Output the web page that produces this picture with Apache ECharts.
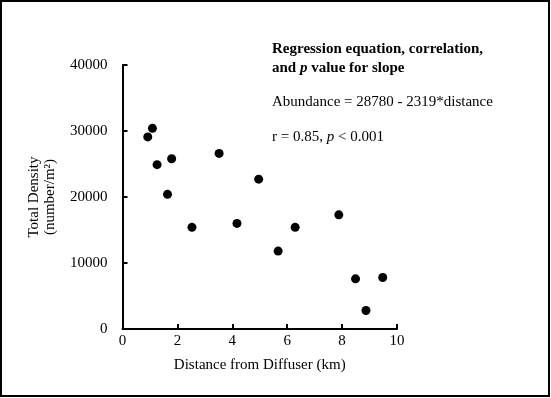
<!DOCTYPE html>
<html>
<head>
<meta charset="utf-8">
<style>
html, body { margin: 0; padding: 0; background: #fff; }
#main { width: 551px; height: 398px; }
</style>
<script src="https://cdn.jsdelivr.net/npm/echarts@6/dist/echarts.min.js"></script>
</head>
<body>
<div id="main"></div>
<script>
// distance from diffuser (km) and total density (number/m2)
var distance = [0.92, 1.09, 1.26, 1.64, 1.79, 2.53, 3.52, 4.17, 4.96, 5.67, 6.29, 7.88, 8.49, 8.87, 9.48];
var density = [29100, 30400, 24900, 20400, 25800, 15400, 26600, 16000, 22700, 11800, 15400, 17300, 7600, 2800, 7800];
var xTicks = [0, 2, 4, 6, 8, 10];
var yTicks = [0, 10000, 20000, 30000, 40000];

var points = distance.map(function(d, i) {
	return [d, density[i]];
});

var myChart = echarts.init(document.getElementById('main'));

var font = '"Liberation Serif", "Times New Roman", serif';

var option = {
	backgroundColor: '#fff',
	animation: false,
	textStyle: {
		fontFamily: font
	},
	grid: {
		left: 122.5,
		right: 154,
		top: 65,
		bottom: 69
	},
	xAxis: {
		type: 'value',
		min: xTicks[0],
		max: xTicks[xTicks.length - 1],
		interval: 2,
		name: 'Distance from Diffuser (km)',
		nameLocation: 'middle',
		nameGap: 29,
		nameTextStyle: {
			color: '#000',
			fontSize: 15,
			fontFamily: font
		},
		axisLine: {
			lineStyle: { color: '#000', width: 2 }
		},
		axisTick: {
			inside: true,
			length: 5,
			lineStyle: { color: '#000', width: 2 }
		},
		axisLabel: {
			color: '#000',
			fontSize: 15,
			fontFamily: font,
			margin: 5,
			formatter: function(v) { return String(v); }
		},
		splitLine: { show: false }
	},
	yAxis: {
		type: 'value',
		min: yTicks[0],
		max: yTicks[yTicks.length - 1],
		interval: 10000,
		name: 'Total Density\n(number/m²)',
		nameLocation: 'middle',
		nameGap: 64,
		nameRotate: 90,
		nameTextStyle: {
			color: '#000',
			fontSize: 15,
			lineHeight: 16,
			fontFamily: font,
			align: 'center'
		},
		axisLine: {
			show: true,
			lineStyle: { color: '#000', width: 2 }
		},
		axisTick: {
			show: true,
			inside: true,
			length: 5,
			lineStyle: { color: '#000', width: 2 }
		},
		axisLabel: {
			color: '#000',
			fontSize: 15,
			fontFamily: font,
			margin: 15,
			formatter: function(v) { return String(v); }
		},
		splitLine: { show: false }
	},
	graphic: [
		{
			type: 'rect',
			shape: { x: 1, y: 1, width: 548, height: 395 },
			style: { fill: 'none', stroke: '#000', lineWidth: 2 }
		},
		{
			type: 'line',
			shape: { x1: 549, y1: 2, x2: 549, y2: 397 },
			style: { stroke: '#000', lineWidth: 2 }
		},
		{
			type: 'line',
			shape: { x1: 2, y1: 396, x2: 550, y2: 396 },
			style: { stroke: '#000', lineWidth: 2 }
		},
		{
			type: 'text',
			left: 272,
			top: 42,
			style: {
				text: 'Regression equation, correlation,',
				font: 'bold 15px ' + font,
				fill: '#000'
			}
		},
		{
			type: 'text',
			left: 272,
			top: 61,
			style: {
				text: '{n|and }{i|p}{n| value for slope}',
				fill: '#000',
				rich: {
					n: { font: 'bold 15px ' + font, fill: '#000' },
					i: { font: 'bold italic 15px ' + font, fill: '#000' }
				}
			}
		},
		{
			type: 'text',
			left: 272,
			top: 95,
			style: {
				text: 'Abundance = 28780 - 2319*distance',
				font: '15px ' + font,
				fill: '#000'
			}
		},
		{
			type: 'text',
			left: 272,
			top: 130,
			style: {
				text: '{n|r = 0.85, }{i|p}{n| < 0.001}',
				fill: '#000',
				rich: {
					n: { font: '15px ' + font, fill: '#000' },
					i: { font: 'italic 15px ' + font, fill: '#000' }
				}
			}
		}
	],
	series: [{
		type: 'scatter',
		data: points,
		symbol: 'circle',
		symbolSize: 9,
		itemStyle: {
			color: '#000',
			opacity: 1
		}
	}]
};
myChart.setOption(option);
</script>
</body>
</html>
